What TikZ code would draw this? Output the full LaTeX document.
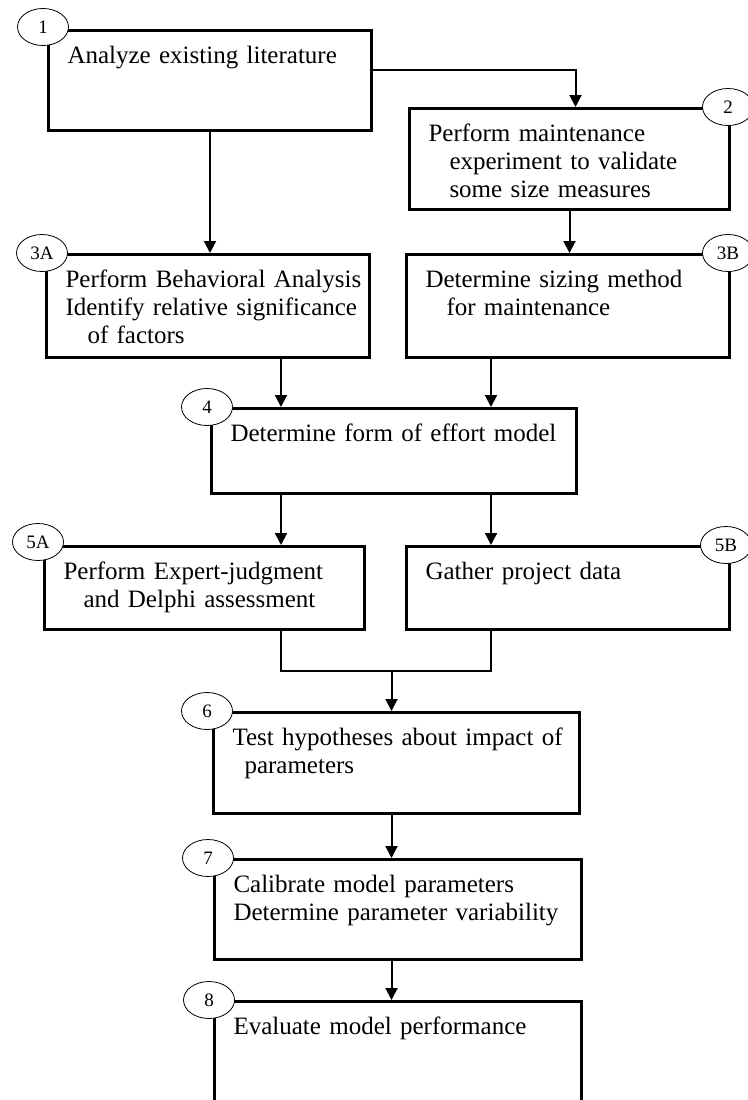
\documentclass[tikz,border=0pt]{standalone}
\usepackage{fontspec}
\setmainfont{Liberation Serif}
\usetikzlibrary{shapes.geometric, calc, arrows.meta}
\tikzset{stepBox/.style={draw, line width=3pt, anchor=north west, inner xsep=19pt, inner ysep=0pt, align=left, text height=33pt, font=\fontsize{25}{28}\selectfont}}
\tikzset{stepTag/.style={shape=ellipse, draw, fill=white, line width=0.8pt, minimum width=51pt, minimum height=37pt, inner sep=0pt, font=\fontsize{19}{19}\selectfont}}
\tikzset{flowLine/.style={line width=2pt}}
\tikzset{flowArrow/.style={flowLine, -{Triangle[length=12pt, width=12pt]}}}

\begin{document}
\begin{tikzpicture}[x=1pt, y=-1pt]

\useasboundingbox (0,0) rectangle (747,1100);

% Step 1
\node[stepBox, text width=285pt, text depth=67pt] (b1) at (47,29) {Analyze existing literature};
\node[stepTag] (t1) at ([xshift=-4pt, yshift=2pt]b1.north west) {1};

% Step 2
\node[stepBox, text width=282pt, text depth=68pt] (b2) at (408,107)
  {Perform maintenance\\\hspace*{21pt}experiment to validate\\\hspace*{21pt}some size measures};
\node[stepTag] (t2) at ([xshift=-3pt]b2.north east) {2};

% Steps 3A and 3B
\node[stepBox, text width=285pt, text depth=70pt] (b3a) at (45,253)
  {\mbox{Perform Behavioral Analysis}\\\mbox{Identify relative significance}\\\hspace*{22pt}of factors};
\node[stepTag] (t3a) at ([xshift=-3pt]b3a.north west) {3A};
\node[stepBox, text width=285pt, text depth=70pt] (b3b) at (405,253)
  {Determine sizing method\\\hspace*{21pt}for maintenance};
\node[stepTag] (t3b) at ([xshift=-3pt]b3b.north east) {3B};

% Step 4
\node[stepBox, text width=327pt, text depth=52pt] (b4) at (210,407) {\mbox{Determine form of effort model}};
\node[stepTag] (t4) at ([xshift=-3pt]b4.north west) {4};

% Steps 5A and 5B
\node[stepBox, text width=282pt, text depth=50pt] (b5a) at (43,545)
  {\mbox{Perform Expert-judgment}\\\hspace*{20pt}and Delphi assessment};
\node[stepTag] (t5a) at ([xshift=-5pt, yshift=3pt]b5a.north west) {5A};
\node[stepBox, text width=285pt, text depth=50pt] (b5b) at (405,545) {Gather project data};
\node[stepTag] (t5b) at ([xshift=-5pt]b5b.north east) {5B};

% Steps 6 to 8
\node[stepBox, text width=328pt, text depth=68pt] (b6) at (212,711)
  {\mbox{Test hypotheses about impact of}\\\hspace*{12pt}parameters};
\node[stepTag] (t6) at ([xshift=-5pt]b6.north west) {6};
\node[stepBox, text width=329pt, text depth=67pt] (b7) at (213,858)
  {Calibrate model parameters\\\mbox{Determine parameter variability}};
\node[stepTag] (t7) at ([xshift=-5pt]b7.north west) {7};
\node[stepBox, text width=329pt, text depth=107pt] (b8) at (213,1000) {Evaluate model performance};
\node[stepTag] (t8) at ([xshift=-4pt]b8.north west) {8};

% Connectors
\coordinate (in4a) at ([xshift=71pt]b4.north west);
\coordinate (in4b) at ([xshift=-87pt]b4.north east);
\coordinate (in6) at ([xshift=-5pt]b6.north);
\coordinate (join) at ($(b5a.south)!0.5!(b6.north)$);

\draw[flowArrow] ([yshift=11pt]b1.east) -| ([xshift=6pt]b2.north);
\draw[flowArrow] (b1.south) -- (b1.south |- b3a.north);
\draw[flowArrow] (b2.south) -- (b2.south |- b3b.north);
\draw[flowArrow] (b3a.south -| in4a) -- (in4a);
\draw[flowArrow] (b3b.south -| in4b) -- (in4b);
\draw[flowArrow] (b4.south -| in4a) -- (b5a.north -| in4a);
\draw[flowArrow] (b4.south -| in4b) -- (b5b.north -| in4b);
\draw[flowLine] (b5a.south -| in4a) -- (join -| in4a) -- (join -| in4b) -- (b5b.south -| in4b);
\draw[flowArrow] (join -| in6) -- (in6);
\draw[flowArrow] (b6.south -| in6) -- (b7.north -| in6);
\draw[flowArrow] (b7.south -| in6) -- (b8.north -| in6);

\end{tikzpicture}
\end{document}
